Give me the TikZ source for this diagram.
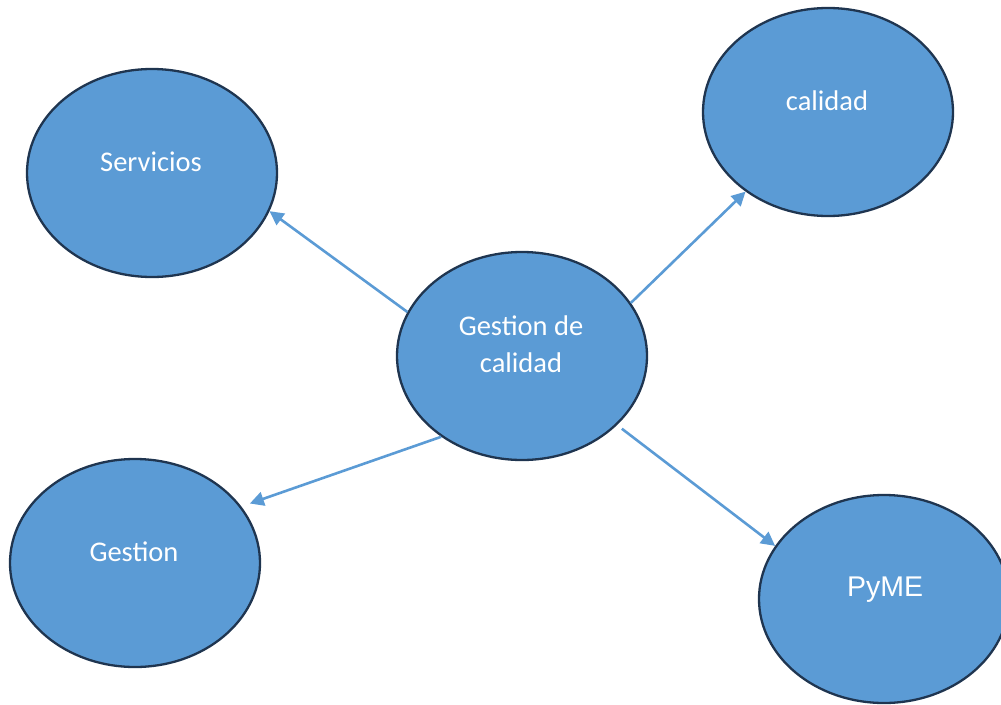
\documentclass[tikz,border=0pt]{standalone}
\usepackage{fontspec}
\setmainfont{Carlito}
\newfontfamily\arialf{Liberation Sans}
\usetikzlibrary{arrows.meta,shapes.geometric}
\definecolor{fillblue}{HTML}{5B9BD5}
\definecolor{edgenavy}{HTML}{1F3550}
\tikzset{
  bubble/.style={ellipse, draw=edgenavy, fill=fillblue, line width=2.3pt,
    minimum width=250pt, minimum height=208pt, inner sep=0pt},
  label text/.style={text=white, font=\fontsize{28.5}{37}\selectfont, align=center, inner sep=0pt},
  link/.style={draw=fillblue, line width=2.6pt, -{Triangle[length=14pt,width=14pt]}}
}
\begin{document}
\begin{tikzpicture}[x=1pt,y=-1pt]
\useasboundingbox (0,0) rectangle (1001,704);
\node[bubble] (s) at (152,173) {};
\node[bubble] (k) at (828,112) {};
\node[bubble] (c) at (522,356) {};
\node[bubble] (g) at (135,563) {};
\node[bubble] (p) at (884,599) {};
\node[label text] (st) at (151,162) {Servicios};
\node[label text] (kt) at (827,101) {calidad};
\node[label text] (ct) at (521,344) {Gestion de\\calidad};
\node[label text] (gt) at (134,552) {Gestion};
\node[label text, font=\arialf\fontsize{28.5}{34}\selectfont] (pt) at (885,590) {PyME};
\draw[link] (c.159) -- (s.-18);
\draw[link] (c.26) -- (k.224);
\draw[link, shorten >=9pt] (c.225) -- (g.28);
\draw[link, shorten <=6pt] (c.-36) -- (p.154);
\end{tikzpicture}
\end{document}
